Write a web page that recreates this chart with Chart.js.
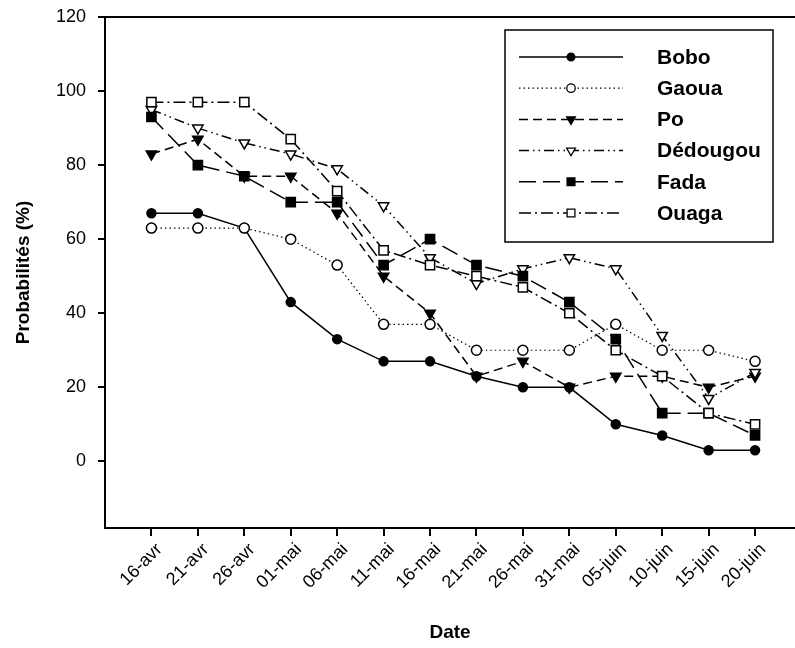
<!DOCTYPE html>
<html>
<head>
<meta charset="utf-8">
<script src="https://cdn.jsdelivr.net/npm/chart.js@4/dist/chart.umd.min.js"></script>
<style>
  html, body { margin: 0; padding: 0; background: #fff; }
</style>
</head>
<body>
<canvas id="myChart" width="795" height="648"></canvas>
<script>
const labels = ['16-avr', '21-avr', '26-avr', '01-mai', '06-mai', '11-mai', '16-mai',
                '21-mai', '26-mai', '31-mai', '05-juin', '10-juin', '15-juin', '20-juin'];
const yTicks = [0, 20, 40, 60, 80, 100, 120];

const bobo     = [67, 67, 63, 43, 33, 27, 27, 23, 20, 20, 10, 7, 3, 3];
const gaoua    = [63, 63, 63, 60, 53, 37, 37, 30, 30, 30, 37, 30, 30, 27];
const po       = [83, 87, 77, 77, 67, 50, 40, 23, 27, 20, 23, 23, 20, 23];
const dedougou = [95, 90, 86, 83, 79, 69, 55, 48, 52, 55, 52, 34, 17, 24];
const fada     = [93, 80, 77, 70, 70, 53, 60, 53, 50, 43, 33, 13, 13, 7];
const ouaga    = [97, 97, 97, 87, 73, 57, 53, 50, 47, 40, 30, 23, 13, 10];

const X_MIN = -1, X_MAX = 13.86;

Chart.defaults.font.family = "'Liberation Sans', Arial, sans-serif";
Chart.defaults.color = '#000';

// one line per station, x is the index of the date
function series(label, values, order, opts) {
  return Object.assign({
    label: label,
    data: values.map((v, i) => ({x: i, y: v})),
    borderColor: '#000',
    borderWidth: 1.5,
    pointBorderColor: '#000',
    pointBorderWidth: 1.5,
    pointHoverRadius: 0,
    tension: 0,
    order: order
  }, opts);
}

const datasets = [
  series('Bobo', bobo, 6, {pointStyle: 'circle', pointRadius: 4.5, pointBackgroundColor: '#000'}),
  series('Gaoua', gaoua, 5, {borderDash: [1.5, 3], borderWidth: 1.2, pointStyle: 'circle', pointRadius: 5, pointBackgroundColor: '#fff'}),
  series('Po', po, 4, {borderDash: [9, 5], pointStyle: 'triangle', pointRotation: 180, pointRadius: 6, pointBackgroundColor: '#000'}),
  series('Dédougou', dedougou, 3, {borderDash: [10, 4, 1.5, 4, 1.5, 4], pointStyle: 'triangle', pointRotation: 180, pointRadius: 6, pointBackgroundColor: '#fff'}),
  series('Fada', fada, 2, {borderDash: [17, 7], pointStyle: 'rect', pointRadius: 6.5, pointBackgroundColor: '#000'}),
  series('Ouaga', ouaga, 1, {borderDash: [12, 4, 2, 4], pointStyle: 'rect', pointRadius: 6.5, pointBackgroundColor: '#fff'})
];

// legend box drawn like the original (line sample with the marker in the middle)
const legendBox = {
  id: 'legendBox',
  afterDraw(chart) {
    const ctx = chart.ctx;
    const bx = 505, by = 30, bw = 268, bh = 212;
    ctx.save();
    ctx.fillStyle = '#fff';
    ctx.fillRect(bx, by, bw, bh);
    ctx.strokeStyle = '#000';
    ctx.lineWidth = 1.5;
    ctx.strokeRect(bx, by, bw, bh);
    chart.data.datasets.forEach((ds, i) => {
      const y = 57 + i * 31.2;
      ctx.setLineDash(ds.borderDash || []);
      ctx.lineWidth = ds.borderWidth;
      ctx.strokeStyle = '#000';
      ctx.beginPath();
      ctx.moveTo(519, y);
      ctx.lineTo(623, y);
      ctx.stroke();
      ctx.setLineDash([]);
      ctx.fillStyle = ds.pointBackgroundColor;
      ctx.lineWidth = 1.3;
      Chart.helpers.drawPoint(ctx, {
        pointStyle: ds.pointStyle,
        rotation: ds.pointRotation || 0,
        radius: ds.pointRadius * 0.85,
        borderWidth: 1.3
      }, 571, y);
      ctx.fillStyle = '#000';
      ctx.font = "bold 21px 'Liberation Sans', Arial, sans-serif";
      ctx.textBaseline = 'middle';
      ctx.textAlign = 'left';
      ctx.fillText(ds.label, 657, y + 1);
    });
    ctx.restore();
  }
};

const config = {
  type: 'line',
  data: {datasets: datasets},
  options: {
    responsive: false,
    animation: false,
    devicePixelRatio: 1,
    layout: {autoPadding: false, padding: {top: 17, left: 0, right: 0, bottom: 0}},
    plugins: {
      legend: {display: false},
      tooltip: {enabled: false}
    },
    scales: {
      x: {
        type: 'linear',
        min: X_MIN,
        max: X_MAX,
        afterBuildTicks: scale => { scale.ticks = labels.map((l, i) => ({value: i})); },
        afterFit: scale => { scale.height = 120; scale.paddingLeft = 0; scale.paddingRight = 0; },
        ticks: {
          callback: v => labels[v],
          minRotation: 45,
          maxRotation: 45,
          autoSkip: false,
          padding: 3,
          labelOffset: 8,
          font: {size: 18}
        },
        grid: {drawOnChartArea: false, drawTicks: true, tickLength: 8, color: '#000', lineWidth: 2},
        border: {display: true, color: '#000', width: 2},
        title: {display: true, text: 'Date', font: {size: 19, weight: 'bold'}, padding: {top: 0, bottom: 4}}
      },
      xTop: {
        type: 'linear',
        position: 'top',
        min: X_MIN,
        max: X_MAX,
        afterFit: scale => { scale.height = 0; scale.paddingLeft = 0; scale.paddingRight = 0; },
        ticks: {display: false},
        grid: {drawOnChartArea: false, drawTicks: false},
        border: {display: true, color: '#000', width: 2}
      },
      y: {
        min: -18,
        max: 120,
        afterBuildTicks: scale => { scale.ticks = yTicks.map(v => ({value: v})); },
        afterFit: scale => { scale.width = 105; scale.paddingTop = 0; scale.paddingBottom = 0; },
        ticks: {padding: 12, font: {size: 18}},
        grid: {drawOnChartArea: false, drawTicks: true, tickLength: 7, color: '#000', lineWidth: 2},
        border: {display: true, color: '#000', width: 2},
        title: {display: true, text: 'Probabilités (%)', font: {size: 19, weight: 'bold'}, padding: {top: 12, bottom: 0}}
      }
    }
  },
  plugins: [legendBox]
};

const myChart = new Chart(document.getElementById('myChart'), config);
</script>
</body>
</html>
